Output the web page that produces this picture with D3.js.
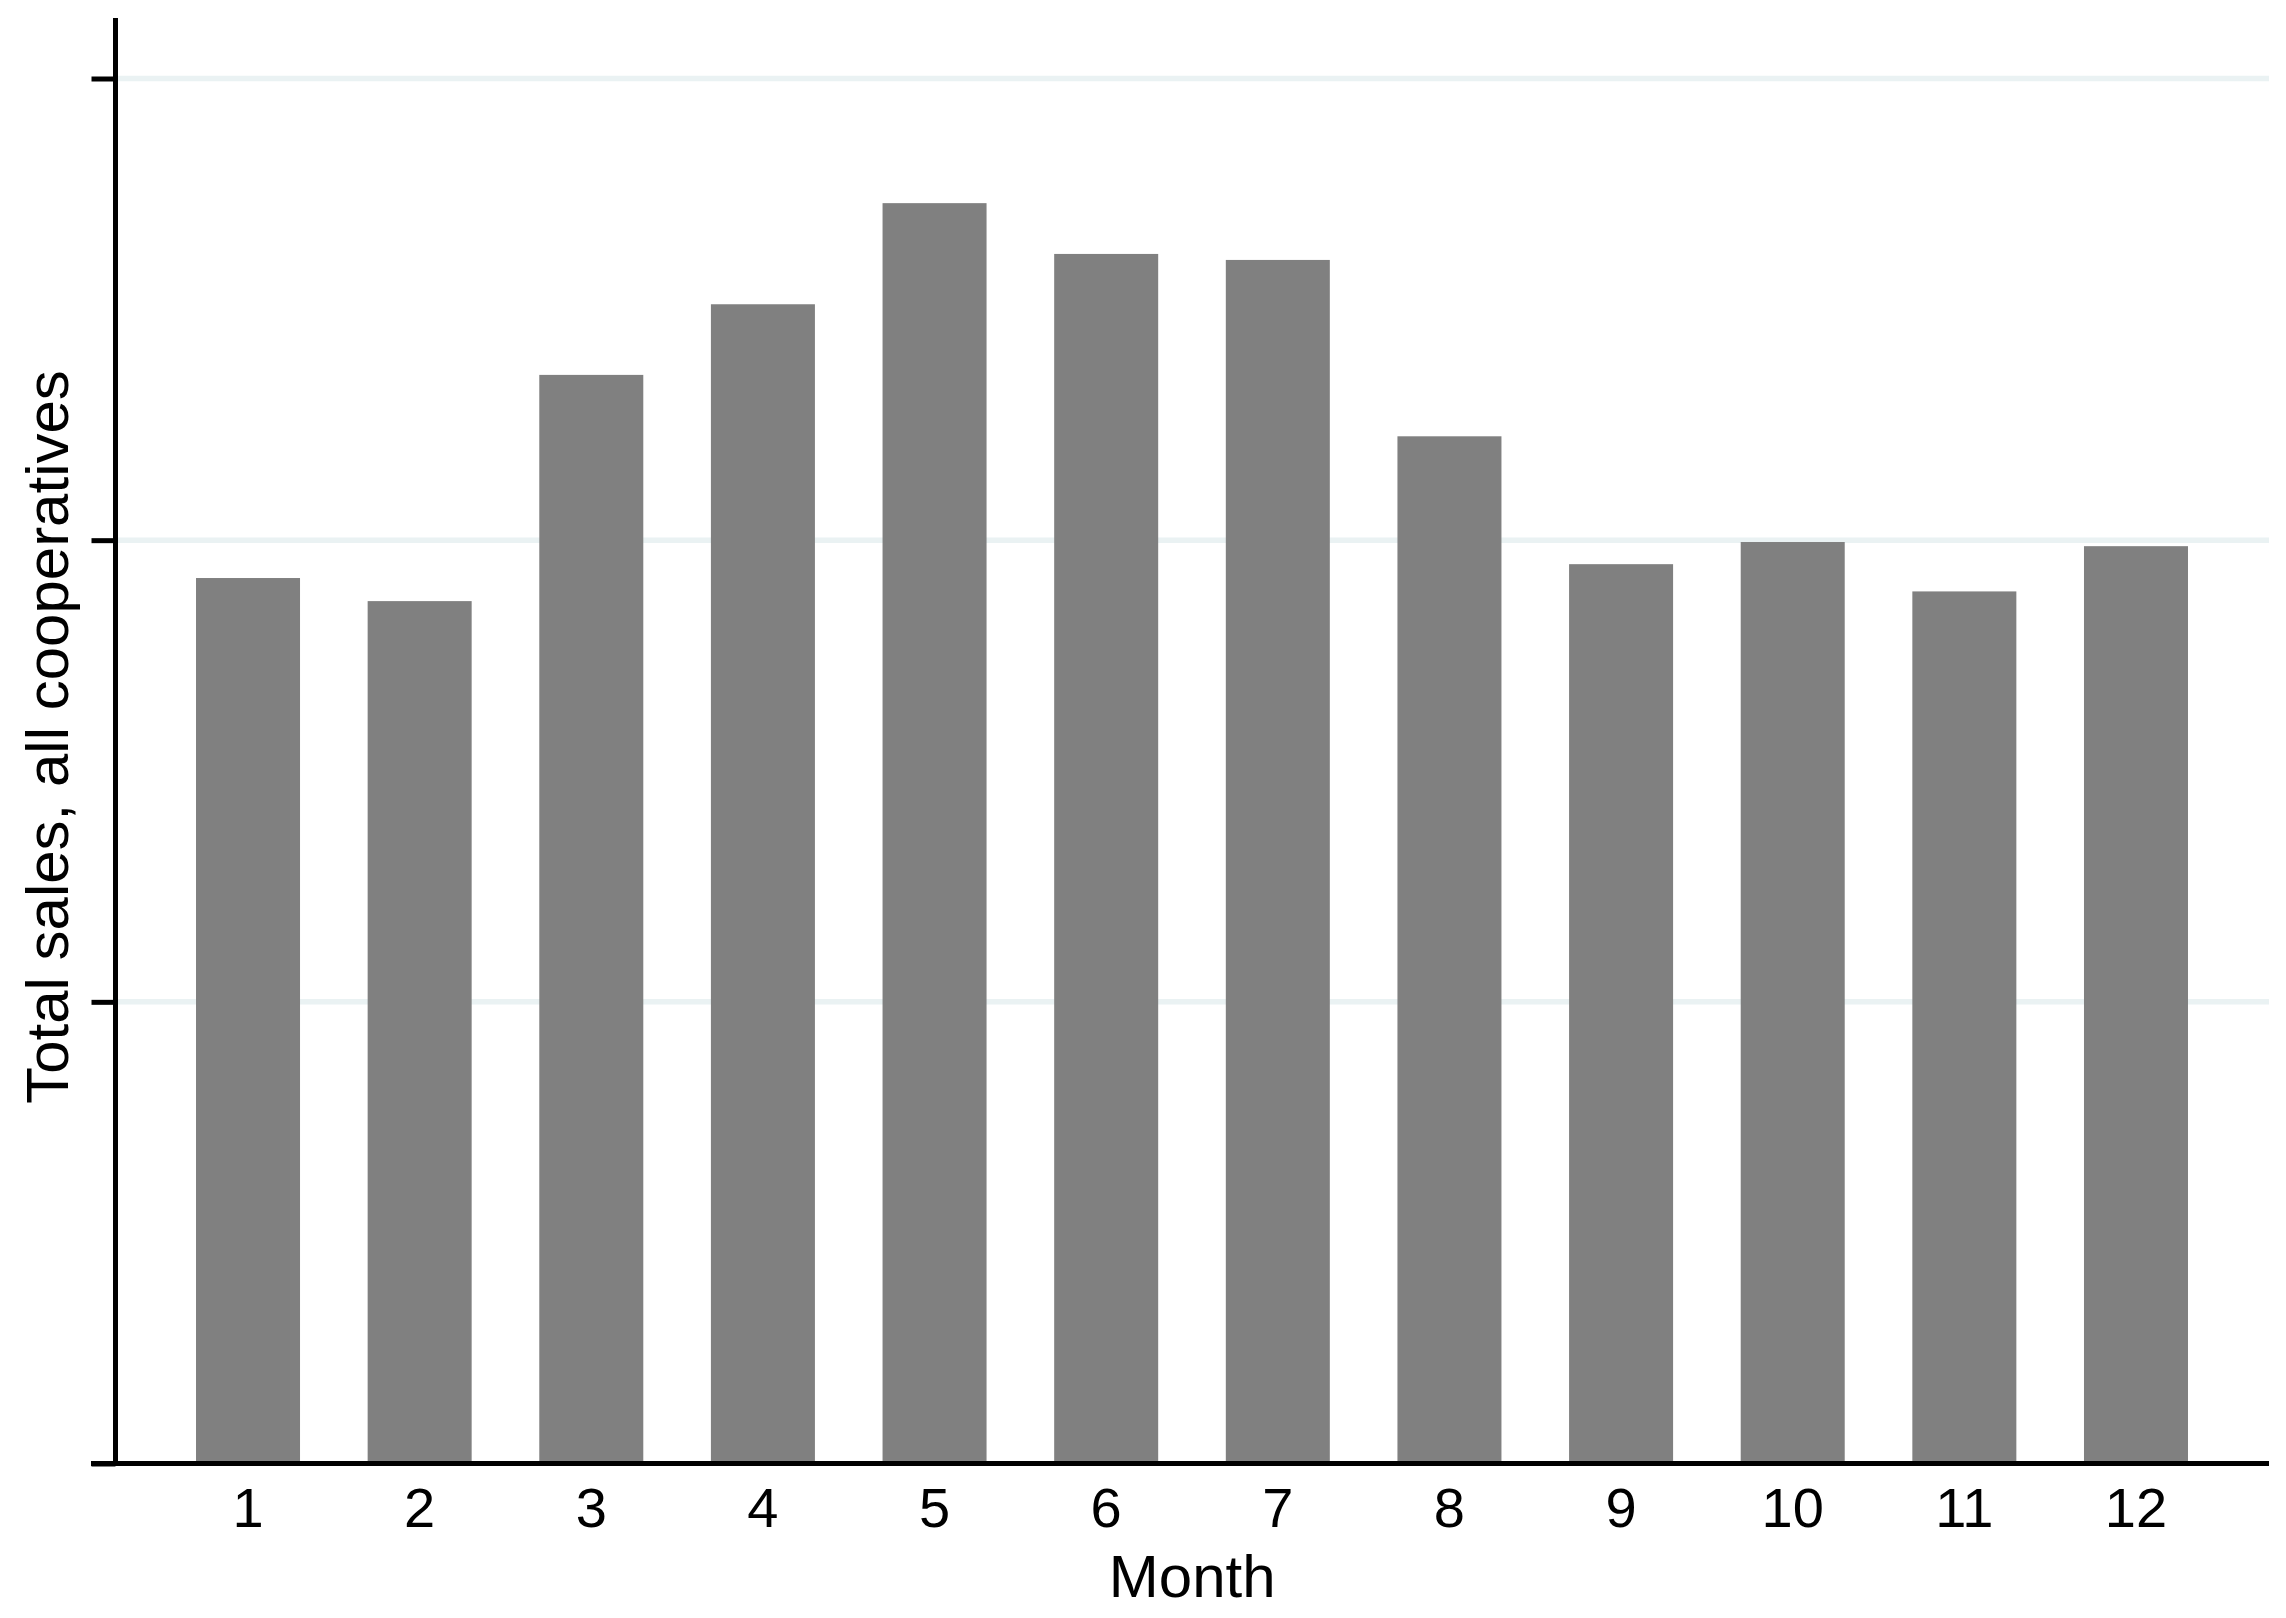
<!DOCTYPE html>
<html>
<head>
<meta charset="utf-8">
<script src="https://cdn.jsdelivr.net/npm/d3@7"></script>
<style>
  html, body { margin: 0; padding: 0; background: #ffffff; }
  svg { display: block; }
  text { font-family: "Liberation Sans", Arial, sans-serif; fill: #000; }
</style>
</head>
<body>
<script>
// ---- data ----
const months = ["1","2","3","4","5","6","7","8","9","10","11","12"];
const sales = [1.918, 1.868, 2.358, 2.511, 2.730, 2.620, 2.607, 2.225, 1.948, 1.996, 1.889, 1.987];
const yTicks = [0, 1, 2, 3];
const yMax = 3.131;
const xTitle = "Month";
const yTitle = "Total sales, all cooperatives";

// ---- layout ----
const W = 2286, H = 1618;
const plotLeft = 115.5, plotRight = 2269;
const yBottom = 1463.5, yTop3 = 78.5;

const svg = d3.select("body").append("svg").attr("width", W).attr("height", H);

const y = d3.scaleLinear().domain([0, 3]).range([yBottom, yTop3]);
const x = d3.scaleBand().domain(months)
  .range([162.2, 2221.8]).paddingInner(0.394).paddingOuter(0.197);

// gridlines
svg.append("g").selectAll("line").data(yTicks.filter(d => d > 0)).join("line")
  .attr("x1", plotLeft).attr("x2", plotRight)
  .attr("y1", d => y(d)).attr("y2", d => y(d))
  .attr("stroke", "#eaf2f3").attr("stroke-width", 5.5);

// bars
svg.append("g").selectAll("rect").data(months).join("rect")
  .attr("x", d => x(d))
  .attr("width", x.bandwidth())
  .attr("y", (d, i) => y(sales[i]))
  .attr("height", (d, i) => y(0) - y(sales[i]))
  .attr("fill", "#808080");

// y axis (ticks, no labels)
const yAxis = d3.axisLeft(y).tickValues(yTicks).tickSize(24).tickFormat("");
const gy = svg.append("g").attr("transform", `translate(${plotLeft},0)`).call(yAxis);
gy.select(".domain").remove();
gy.selectAll(".tick line").attr("stroke", "#000").attr("stroke-width", 5);
svg.append("line")
  .attr("x1", plotLeft).attr("x2", plotLeft)
  .attr("y1", y(yMax)).attr("y2", yBottom + 2.5)
  .attr("stroke", "#000").attr("stroke-width", 5);

// x axis
const xAxis = d3.axisBottom(x).tickSize(0).tickPadding(24);
const gx = svg.append("g").attr("transform", `translate(0,${yBottom})`).call(xAxis);
gx.select(".domain").remove();
gx.selectAll(".tick text")
  .attr("font-size", 56).attr("font-family", "Liberation Sans, Arial, sans-serif")
  .attr("fill", "#000").attr("dy", "0.71em");
svg.append("line")
  .attr("x1", 91).attr("x2", plotRight)
  .attr("y1", yBottom).attr("y2", yBottom)
  .attr("stroke", "#000").attr("stroke-width", 5);

// axis titles
svg.append("text")
  .attr("x", (plotLeft + plotRight) / 2).attr("y", 1597)
  .attr("text-anchor", "middle").attr("font-size", 60)
  .text(xTitle);

svg.append("text")
  .attr("transform", `translate(68,${(yTop3 + yBottom) / 2 - 34}) rotate(-90)`)
  .attr("text-anchor", "middle").attr("font-size", 60)
  .text(yTitle);
</script>
</body>
</html>
